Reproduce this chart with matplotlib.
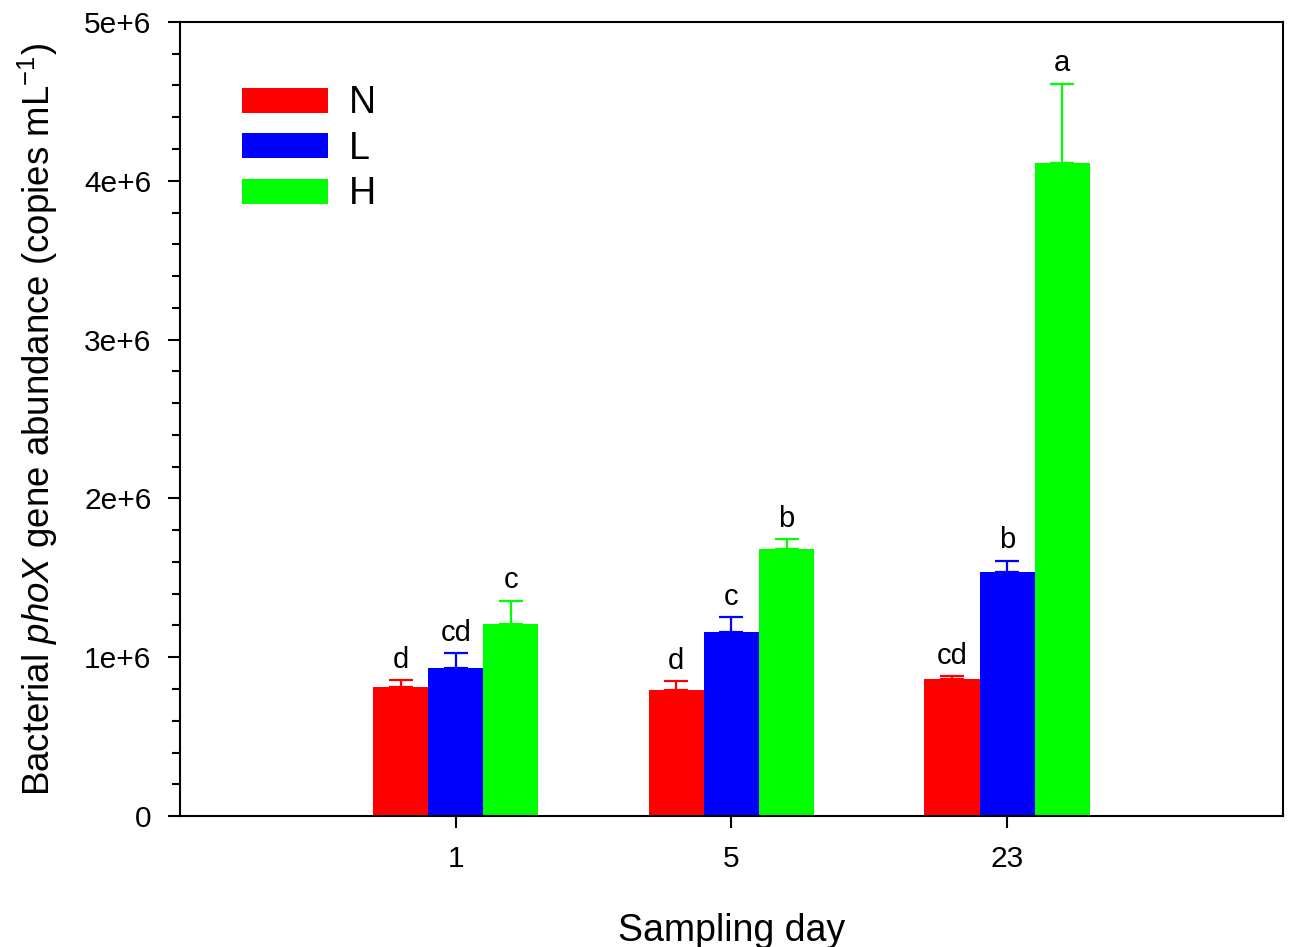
import numpy as np
import matplotlib.pyplot as plt

plt.rcParams['font.family'] = ['Liberation Sans', 'DejaVu Sans']
plt.rcParams['mathtext.fontset'] = 'custom'
plt.rcParams['mathtext.rm'] = 'Liberation Sans'
plt.rcParams['mathtext.it'] = 'Liberation Sans:italic'

days = ['1', '5', '23']
treatments = ['N', 'L', 'H']
colors = ['#ff0000', '#0000ff', '#00ff00']

N_mean = [0.812e6, 0.793e6, 0.862e6]
N_err = [0.044e6, 0.057e6, 0.017e6]
L_mean = [0.932e6, 1.159e6, 1.537e6]
L_err = [0.094e6, 0.094e6, 0.069e6]
H_mean = [1.209e6, 1.681e6, 4.112e6]
H_err = [0.145e6, 0.063e6, 0.498e6]

N_sig = ['d', 'd', 'cd']
L_sig = ['cd', 'c', 'b']
H_sig = ['c', 'b', 'a']

yticks = [0, 1e6, 2e6, 3e6, 4e6, 5e6]
ytick_labels = ['0', '1e+6', '2e+6', '3e+6', '4e+6', '5e+6']

means = [N_mean, L_mean, H_mean]
errs = [N_err, L_err, H_err]
sigs = [N_sig, L_sig, H_sig]

fig = plt.figure(figsize=(12.89, 9.47), dpi=100)
ax = fig.add_axes([0.1396, 0.1383, 0.8557, 0.8385])

x = np.arange(len(days))
w = 0.2
for i, name in enumerate(treatments):
    xs = x + (i - 1) * w
    ax.bar(xs, means[i], width=w, color=colors[i], label=name, zorder=2)
    ax.errorbar(xs, means[i], yerr=[np.zeros(3), errs[i]], fmt='none',
                ecolor=colors[i], elinewidth=1.6, capsize=8.5, capthick=1.6, zorder=3)
    for xi, m, e, s in zip(xs, means[i], errs[i], sigs[i]):
        ax.annotate(s, (xi, m + e), xytext=(0, 9), textcoords='offset points',
                    ha='center', va='baseline', fontsize=21)

ax.set_xlim(-1, 3)
ax.set_ylim(0, 5e6)
ax.set_xticks(x)
ax.set_xticklabels(days)
ax.set_yticks(yticks)
ax.set_yticklabels(ytick_labels)
ax.set_yticks(np.arange(0, 5e6, 0.2e6), minor=True)

for sp in ax.spines.values():
    sp.set_linewidth(1.5)
ax.tick_params(axis='both', which='major', direction='out', length=8.5, width=1.5,
               labelsize=21.5, pad=12)
ax.tick_params(axis='y', which='minor', direction='out', length=5.5, width=1.5)
ax.tick_params(top=False, right=False)

ax.set_xlabel('Sampling day', fontsize=27, labelpad=29)
ax.set_ylabel('Bacterial $\\it{phoX}$ gene abundance (copies mL$^{-1}$)', fontsize=26.4, labelpad=17)

ax.legend(loc='upper left', bbox_to_anchor=(0.056, 0.92), frameon=False, fontsize=27,
          handlelength=2.3, handleheight=0.65, handletextpad=0.55, labelspacing=0.25,
          borderpad=0, borderaxespad=0)

fig.savefig('out.png', dpi=100)
